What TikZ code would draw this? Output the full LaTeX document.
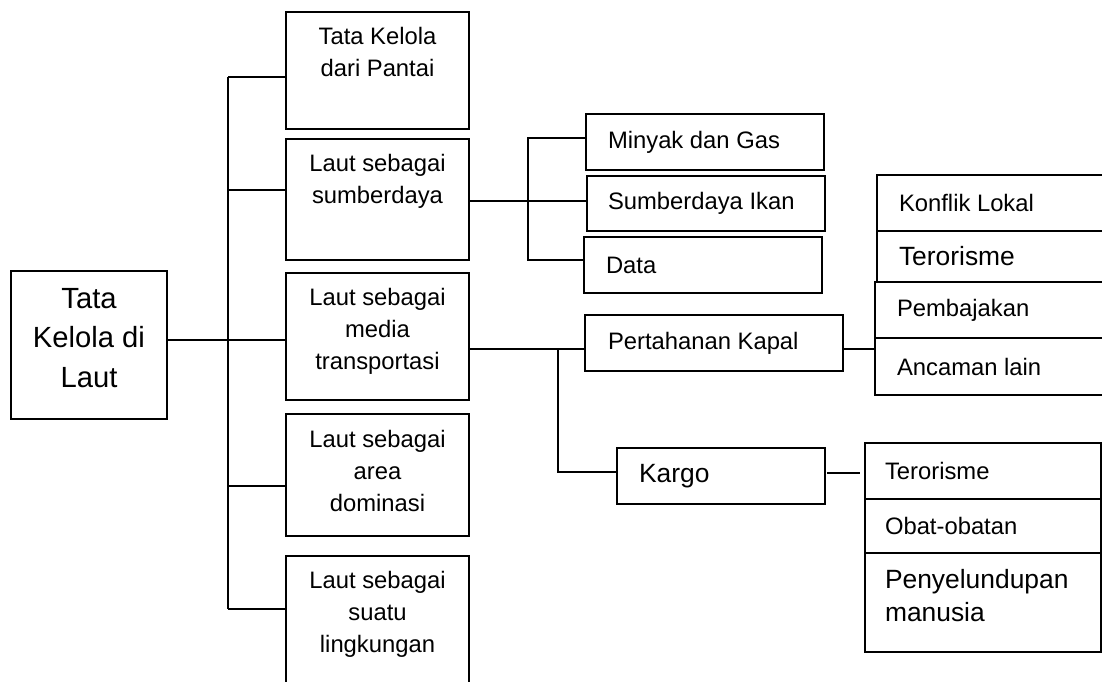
\documentclass[tikz,border=0pt]{standalone}
\usepackage{fontspec}
\setmainfont{Liberation Sans}
\usepackage{tikz}
\usetikzlibrary{positioning,calc}
\newcommand{\isi}[4]{\parbox[c][#2][#3]{#1}{#4}}
\newcommand{\kecil}{\fontsize{23.8}{32}\selectfont}
\newcommand{\besar}{\fontsize{26.4}{33}\selectfont}
\newcommand{\akarfont}{\fontsize{29.2}{39.5}\selectfont}

\begin{document}
\begin{tikzpicture}[x = 1pt, y = -1pt,
  kotak/.style = {draw, line width = 1.9pt, inner sep = 0pt, outer sep = 0pt, anchor = north west},
  garis/.style = {line width = 1.9pt}]
\useasboundingbox (0,0) rectangle (1102,681);
\clip (0,0) rectangle (1102,681);
\node[kotak] (akar) at (11,271) {\isi{156pt}{148pt}{t}{\centering\akarfont\rule{0pt}{37pt}Tata\\ Kelola di\\ Laut}};
\node[kotak] (pantai) at (286,12) {\isi{183pt}{117pt}{t}{\centering\kecil\rule{0pt}{32pt}Tata Kelola\\ dari Pantai}};
\node[kotak] (sumber) at (286,139) {\isi{183pt}{121pt}{t}{\centering\kecil\rule{0pt}{32pt}Laut sebagai\\ sumberdaya}};
\node[kotak] (transport) at (286,273) {\isi{183pt}{127pt}{t}{\centering\kecil\rule{0pt}{32pt}Laut sebagai\\ media\\ transportasi}};
\node[kotak] (dominasi) at (286,414) {\isi{183pt}{122pt}{t}{\centering\kecil\rule{0pt}{33pt}Laut sebagai\\ area\\ dominasi}};
\node[kotak] (lingkungan) at (286,556) {\isi{183pt}{140pt}{t}{\centering\kecil\rule{0pt}{32pt}Laut sebagai\\ suatu\\ lingkungan}};
\node[kotak] (minyak) at (586,114) {\isi{238pt}{56pt}{c}{\raggedright\leftskip=22pt\kecil Minyak dan Gas}};
\node[kotak] (ikan) at (587,176) {\isi{238pt}{55pt}{c}{\raggedright\leftskip=21pt\kecil Sumberdaya Ikan}};
\node[kotak] (data) at (584,237) {\isi{238pt}{56pt}{c}{\raggedright\leftskip=22pt\kecil Data}};
\node[kotak] (kapal) at (585,315) {\isi{258pt}{56pt}{c}{\raggedright\leftskip=23pt\kecil Pertahanan Kapal}};
\node[kotak] (kargo) at (617,448) {\isi{208pt}{56pt}{c}{\raggedright\leftskip=22pt\besar Kargo}};
\node[kotak] (konflik) at (877,175) {\isi{240pt}{56pt}{c}{\raggedright\leftskip=22pt\kecil Konflik Lokal}};
\node[kotak] (teror1) at (877,231) {\isi{240pt}{51pt}{c}{\raggedright\leftskip=22pt\besar Terorisme}};
\node[kotak] (bajak) at (875,282) {\isi{242pt}{56pt}{c}{\raggedright\leftskip=22pt\kecil Pembajakan}};
\node[kotak] (ancaman) at (875,338) {\isi{242pt}{57pt}{c}{\raggedright\leftskip=22pt\kecil Ancaman lain}};
\node[kotak] (teror2) at (865,443) {\isi{236pt}{56pt}{c}{\raggedright\leftskip=20pt\kecil Terorisme}};
\node[kotak] (obat) at (865,499) {\isi{236pt}{54pt}{c}{\raggedright\leftskip=20pt\kecil Obat-obatan}};
\node[kotak] (selundup) at (865,553) {\isi{236pt}{99pt}{t}{\raggedright\leftskip=20pt\besar\rule{0pt}{35pt}Penyelundupan\\ manusia}};
\coordinate (c1) at (228,77);
\coordinate (c2) at (228,190);
\coordinate (c3) at (228,340);
\coordinate (c4) at (228,486);
\coordinate (c5) at (228,609);
\coordinate (s0) at (528,201);
\coordinate (s1) at (528,138);
\coordinate (s3) at (528,260);
\coordinate (t0) at (558,349);
\coordinate (t1) at (558,472);
\coordinate (k0) at (827,473);
\draw[garis] (c1) -- (c5);
\draw[garis] (c1) -- (c1 -| pantai.west);
\draw[garis] (c2) -- (c2 -| sumber.west);
\draw[garis] (c3 -| akar.east) -- (c3 -| transport.west);
\draw[garis] (c4) -- (c4 -| dominasi.west);
\draw[garis] (c5) -- (c5 -| lingkungan.west);
\draw[garis] (s0 -| sumber.east) -- (s0 -| ikan.west);
\draw[garis] (s1 -| minyak.west) -- (s1) -- (s3) -- (s3 -| data.west);
\draw[garis] (t0 -| transport.east) -- (t0 -| kapal.west);
\draw[garis] (t0) -- (t1) -- (t1 -| kargo.west);
\draw[garis] (t0 -| kapal.east) -- (t0 -| bajak.west);
\draw[garis, shorten <= 2pt, shorten >= 5pt] (k0 -| kargo.east) -- (k0 -| teror2.west);
\end{tikzpicture}
\end{document}
